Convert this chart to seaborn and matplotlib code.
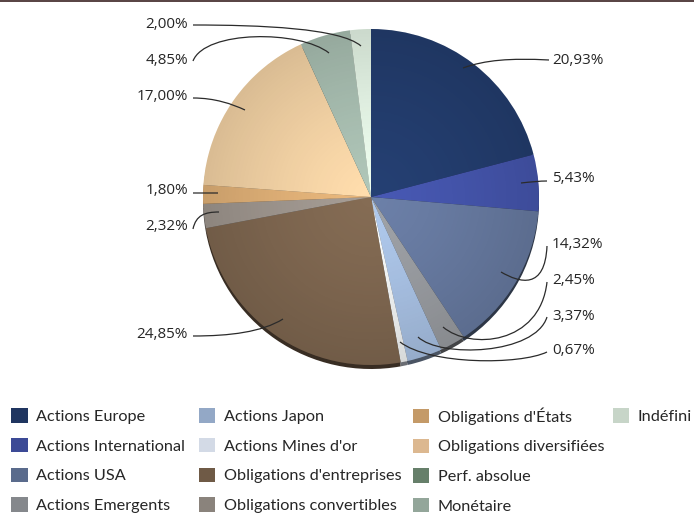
import numpy as np
import seaborn as sns
import matplotlib.pyplot as plt
from matplotlib.patches import Circle, PathPatch, Patch, Rectangle
from matplotlib.path import Path

# repartition du portefeuille
categories = ["Actions Europe", "Actions International", "Actions USA", "Actions Emergents",
              "Actions Japon", "Actions Mines d'or", "Obligations d'entreprises",
              "Obligations convertibles", "Obligations d'États", "Obligations diversifiées",
              "Perf. absolue", "Monétaire", "Indéfini"]
values = [20.93, 5.43, 14.32, 2.45, 3.37, 0.67, 24.85, 2.32, 1.80, 17.00, 0.0, 4.85, 2.00]
colors = ["#1f3560", "#3c4a96", "#5a6b8c", "#85888c", "#93a8c6", "#d3dae6", "#6f5a46",
          "#8a837c", "#c49a68", "#dcb890", "#667f6a", "#93a69a", "#c7d5c8"]

# position du texte et trait de rappel (en pixels de l'image), par categorie
label_pos = {0: (552, 59, "left"), 1: (552, 178, "left"), 2: (552, 243, "left"),
             3: (552, 279, "left"), 4: (552, 315, "left"), 5: (552, 350, "left"),
             6: (188, 334, "right"), 7: (188, 226, "right"), 8: (188, 190, "right"),
             9: (188, 96, "right"), 11: (188, 59, "right"), 12: (188, 23, "right")}
leaders = [
    [(549, 60), (510, 58), (485, 60), (463, 68)],
    [(547, 181), (540, 181), (530, 182), (521, 183)],
    [(547, 246), (545, 290), (520, 283), (501, 272)],
    [(547, 282), (540, 345), (470, 350), (443, 327)],
    [(547, 317), (535, 355), (440, 358), (418, 337)],
    [(547, 352), (520, 365), (430, 365), (400, 342)],
    [(193, 336), (230, 336), (262, 332), (283, 319)],
    [(193, 229), (196, 215), (205, 212), (219, 212)],
    [(193, 193), (200, 193), (210, 193), (218, 193)],
    [(193, 98), (215, 98), (232, 104), (245, 110)],
    [(193, 61), (205, 30), (300, 30), (329, 53)],
    [(193, 25), (260, 25), (340, 28), (361, 46)],
]

sns.set_theme(style="white")
plt.rcParams['font.family'] = ['Open Sans', 'DejaVu Sans']
palette = sns.color_palette(colors)
face = [tuple(min(c * 1.2, 1) for c in col) for col in palette]
dark = [tuple(c * 0.5 for c in col) for col in palette]

fig = plt.figure(figsize=(6.94, 5.14), dpi=100, facecolor="white")
ax = fig.add_axes([0, 0, 1, 1])

# rebord sombre du camembert
ax.pie(values, colors=dark, startangle=-90, counterclock=True, radius=168, center=(371, 201),
       frame=True, wedgeprops={"linewidth": 0})
ax.pie(values, colors=face, startangle=-90, counterclock=True, radius=168, center=(371, 197),
       frame=True, wedgeprops={"linewidth": 0})

# degrade : couleur pleine au centre, plus sombre vers le bord
xx, yy = np.meshgrid(np.linspace(-1, 1, 400), np.linspace(-1, 1, 400))
rr = np.clip(np.hypot(xx, yy), 0, 1)
shade = np.zeros((400, 400, 4))
shade[..., 3] = 0.15 * rr ** 1.3
img = ax.imshow(shade, extent=(203, 539, 365, 29), zorder=3, interpolation="bilinear")
img.set_clip_path(Circle((371, 197), 168, transform=ax.transData))

# etiquettes et traits
for i, (x, y, ha) in label_pos.items():
    ax.text(x, y + 1, f"{values[i]:.2f}%".replace(".", ","), ha=ha, va="center",
            fontsize=11, color="#262626", zorder=5)
for pts in leaders:
    path = Path(pts, [Path.MOVETO, Path.CURVE4, Path.CURVE4, Path.CURVE4])
    ax.add_patch(PathPatch(path, fill=False, edgecolor="#2b2b2b", linewidth=0.9, zorder=4))

# legende en quatre colonnes
col_x = [8, 196, 410, 610]
col_y = [405, 405, 404, 405]
groups = [range(0, 4), range(4, 8), range(8, 12), range(12, 13)]
for k, grp in enumerate(groups):
    handles = [Patch(facecolor=palette[i], edgecolor="none", label=categories[i]) for i in grp]
    leg = ax.legend(handles=handles, loc="upper left", bbox_to_anchor=(col_x[k], col_y[k]),
                    bbox_transform=ax.transData, frameon=False,
                    prop={"family": "Lato", "size": 11.7}, handlelength=1.0, handleheight=1.0,
                    handletextpad=0.5, labelspacing=0.85, borderpad=0.2, borderaxespad=0)
    for txt in leg.get_texts():
        txt.set_color("#262626")
    if k < len(groups) - 1:
        ax.add_artist(leg)

# filet du haut
ax.add_patch(Rectangle((0, 0), 694, 2, facecolor="#5a4646", edgecolor="none", zorder=6))

ax.set_xlim(0, 694)
ax.set_ylim(514, 0)
ax.set_aspect("equal")
ax.axis("off")

fig.savefig("out.png", dpi=100)
